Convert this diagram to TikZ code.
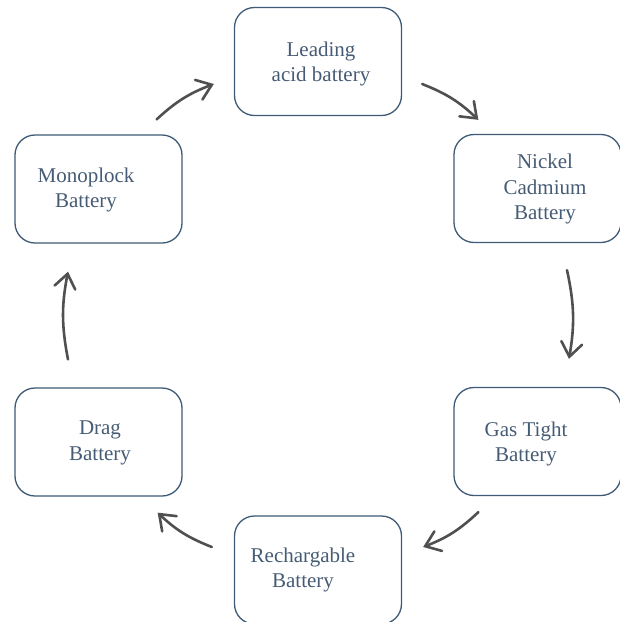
\documentclass[tikz,border=0pt]{standalone}
\usepackage{fontspec}
\setmainfont{Liberation Serif}
\usetikzlibrary{arrows.meta,calc}
\definecolor{boxline}{HTML}{3E5A75}
\definecolor{boxtext}{HTML}{465B74}
\definecolor{arrowgray}{HTML}{505050}
\tikzset{
  cell/.style={draw=boxline, line width=1.3pt, rounded corners=20pt,
    minimum width=167pt, minimum height=108pt, inner sep=0pt},
  caption/.style={text=boxtext, align=center, inner sep=0pt,
    font=\fontsize{21}{25.5}\selectfont},
  flow/.style={draw=arrowgray, line width=2.6pt, line cap=round,
    -{Straight Barb[length=14pt,width=21pt,line cap=round]}, bend left=11}
}
\begin{document}
\begin{tikzpicture}[x=1pt,y=-1pt]
\useasboundingbox (0,0) rectangle (620,622);

% boxes
\node[cell] (lead) at (318,61.5)  {};
\node[cell] (nick) at (537.5,188.5) {};
\node[cell] (gas)  at (537.5,441.5) {};
\node[cell] (rech) at (318,570)   {};
\node[cell] (drag) at (98.5,442)  {};
\node[cell] (mono) at (98.5,189)  {};

% captions
\node[caption] (leadt) at (321,64)  {Leading\\acid battery};
\node[caption] (nickt) at (545,189) {Nickel\\Cadmium\\Battery};
\node[caption] (gast)  at (526,444) {Gas Tight\\Battery};
\node[caption] (recht) at (303,570) {Rechargable\\Battery};
\node[caption] (dragt) at (100,443) {Drag\\Battery};
\node[caption] (monot) at (86,190)  {Monoplock\\Battery};

% connector ends
\coordinate (a1s) at ($(mono.north east)+(-26,-15)$);
\coordinate (a1e) at ($(lead.west)+(-20,22.5)$);
\coordinate (a2s) at ($(lead.east)+(20,22.5)$);
\coordinate (a2e) at ($(nick.north west)+(25,-14)$);
\coordinate (a3s) at ($(nick.south)+(29.5,27)$);
\coordinate (a3e) at ($(gas.north)+(31.5,-28)$);
\coordinate (a4s) at ($(gas.south west)+(25,16)$);
\coordinate (a4e) at ($(rech.east)+(21,-23)$);
\coordinate (a5s) at ($(rech.west)+(-22,-23)$);
\coordinate (a5e) at ($(drag.south east)+(-25,16)$);
\coordinate (a6s) at ($(drag.north)+(-30.5,-28)$);
\coordinate (a6e) at ($(mono.south)+(-30.5,28)$);

% cycle arrows
\draw[flow] (a1s) to (a1e);
\draw[flow] (a2s) to (a2e);
\draw[flow] (a3s) to (a3e);
\draw[flow] (a4s) to (a4e);
\draw[flow] (a5s) to (a5e);
\draw[flow] (a6s) to (a6e);
\end{tikzpicture}
\end{document}
